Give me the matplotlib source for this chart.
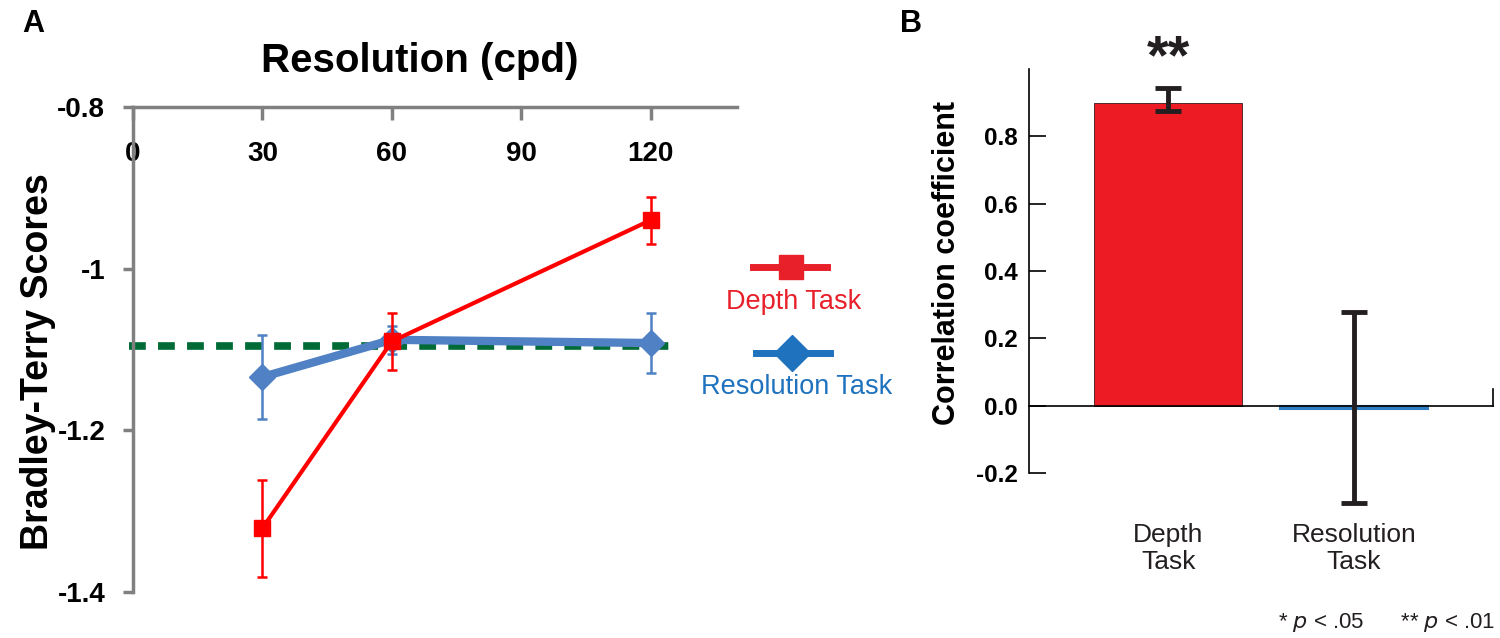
#!/usr/bin/env python3
"""Bradley-Terry scores by resolution (A) and task correlation bars (B)."""

import matplotlib

matplotlib.use("Agg")
import matplotlib.pyplot as plt
from matplotlib.lines import Line2D
from matplotlib.ticker import FuncFormatter

plt.rcParams["font.family"] = ["Liberation Sans", "DejaVu Sans"]
plt.rcParams["axes.unicode_minus"] = False

# panel A data
resolution = [30, 60, 120]
depth_scores = [-1.321, -1.090, -0.940]
depth_err = [0.060, 0.035, 0.029]
res_scores = [-1.134, -1.088, -1.092]
res_err = [0.052, 0.017, 0.037]
chance_level = -1.096
chance_span = [-1, 125]
a_xticks = [0, 30, 60, 90, 120]
a_yticks = [-0.8, -1.0, -1.2, -1.4]

# panel B data
tasks = ["Depth\nTask", "Resolution\nTask"]
corr = [0.899, -0.010]
corr_err_low = [0.024, 0.280]
corr_err_high = [0.044, 0.288]
b_yticks = [-0.2, 0.0, 0.2, 0.4, 0.6, 0.8]

RED = "#FF0000"
RED_LEG = "#E8202A"
BLUE = "#4F81C4"
BLUE_LEG = "#1F72BD"
GREEN = "#006B36"
GRAY = "#808080"
INK = "#231F20"

fig = plt.figure(figsize=(15, 6.38), dpi=100)

# ---- panel A ----
ax = fig.add_axes([0.0887, 0.0721, 0.4026, 0.7602])
ax.plot(chance_span, [chance_level, chance_level], color=GREEN, lw=5.5,
        dashes=(2.2, 1.6), zorder=1, clip_on=False)
ax.errorbar(resolution, res_scores, yerr=res_err, color=BLUE, lw=6,
            marker="D", ms=13, elinewidth=1.8, ecolor=BLUE, capsize=3.5,
            capthick=1.8, zorder=2)
ax.errorbar(resolution, depth_scores, yerr=depth_err, color=RED, lw=3,
            marker="s", ms=11, elinewidth=1.8, ecolor=RED, capsize=3.5,
            capthick=1.8, zorder=3)
ax.set_xlim(0, 140)
ax.set_ylim(-1.4, -0.8)
ax.set_xticks(a_xticks)
ax.set_yticks(a_yticks)
ax.yaxis.set_major_formatter(FuncFormatter(lambda v, _: f"{v:g}"))
for side in ("right", "bottom"):
    ax.spines[side].set_visible(False)
for side in ("top", "left"):
    ax.spines[side].set_color(GRAY)
    ax.spines[side].set_linewidth(2.5)
ax.xaxis.tick_top()
ax.tick_params(axis="x", direction="in", length=9, width=2.5, color=GRAY,
               pad=-43, labelsize=20)
ax.tick_params(axis="y", direction="out", length=7, width=2.5, color=GRAY,
               pad=13, labelsize=20)
for label in ax.get_xticklabels() + ax.get_yticklabels():
    label.set_fontweight("bold")
ax.set_ylabel("Bradley-Terry Scores", fontsize=27, fontweight="bold")
ax.yaxis.set_label_coords(-0.128, 0.475)
fig.text(0.28, 0.905, "Resolution (cpd)", fontsize=29, fontweight="bold",
         ha="center", va="center")
fig.text(0.015, 0.962, "A", fontsize=22, fontweight="bold", va="center")

# legend for panel A, drawn as a stacked key
fig.add_artist(Line2D([0.502, 0.551], [0.582, 0.582], color=RED_LEG, lw=5))
fig.add_artist(Line2D([0.527], [0.582], color=RED_LEG, marker="s", ms=17,
                      lw=0))
fig.text(0.529, 0.527, "Depth Task", color=RED_LEG, fontsize=19.5,
         ha="center", va="center")
fig.add_artist(Line2D([0.504, 0.553], [0.447, 0.447], color=BLUE_LEG, lw=5))
fig.add_artist(Line2D([0.528], [0.447], color=BLUE_LEG, marker="D", ms=18,
                      lw=0))
fig.text(0.531, 0.393, "Resolution Task", color=BLUE_LEG, fontsize=19.5,
         ha="center", va="center")

# ---- panel B ----
bx = fig.add_axes([0.686, 0.2586, 0.3093, 0.6333])
pos = range(len(tasks))
bx.bar(pos, corr, width=0.8, color=["#ED1C24", "#2E7FC2"],
       edgecolor=["#3A1A1A", "#2E7FC2"], linewidth=[0.6, 1.5], zorder=2)
bx.errorbar(pos, corr, yerr=[corr_err_low, corr_err_high], fmt="none",
            ecolor=INK, elinewidth=3.5, capsize=9.5, capthick=3.5,
            zorder=3, clip_on=False)
bx.set_xlim(-0.75, 1.75)
bx.set_ylim(-0.2, 1.0)
bx.set_yticks(b_yticks)
bx.yaxis.set_major_formatter(FuncFormatter(lambda v, _: f"{v:.1f}"))
bx.set_xticks([])
bx.spines["top"].set_visible(False)
bx.spines["bottom"].set_position(("data", 0))
bx.spines["right"].set_bounds(0, 0.05)
for side in ("left", "bottom", "right"):
    bx.spines[side].set_linewidth(1.2)
bx.tick_params(axis="y", direction="in", length=12, width=1.2, pad=8,
               labelsize=17.5)
for label in bx.get_yticklabels():
    label.set_fontweight("bold")
bx.set_ylabel("Correlation coefficient", fontsize=22, fontweight="bold")
bx.yaxis.set_label_coords(-0.145, 0.52)
for x, name in zip(pos, tasks):
    bx.text(x, -0.425, name, ha="center", va="center", fontsize=19,
            linespacing=1.15, color=INK)
bx.text(0, 1.03, "**", ha="center", va="center", fontsize=40,
        fontweight="bold", color=INK)
fig.text(0.997, 0.024, "* $\\it{p}$ < .05      ** $\\it{p}$ < .01",
         ha="right", va="center", fontsize=16, color=INK)
fig.text(0.600, 0.962, "B", fontsize=22, fontweight="bold", va="center")

fig.savefig("out.png", dpi=100)
